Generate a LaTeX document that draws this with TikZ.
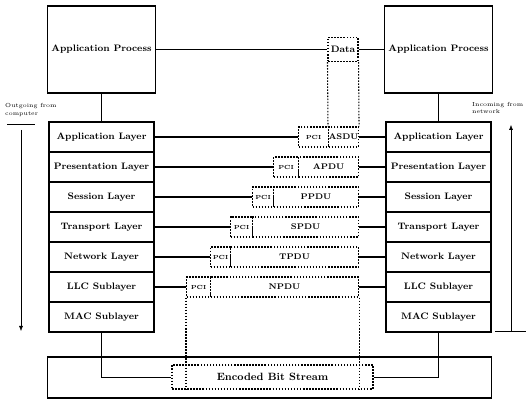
\documentclass[tikz,border=0pt]{standalone}
\usepackage{tikz}
\usetikzlibrary{arrows.meta}
\begin{document}
\begin{tikzpicture}[x=0.03cm,y=-0.03cm]
\tikzset{>={Latex[width=1.2mm,length=1.5mm]}}
\tikzstyle{proc} =[draw, line width=1pt, minimum width=3.15cm, minimum height=2.61cm, font=\footnotesize\bfseries]
\tikzstyle{layer} =[draw, line width=1pt, minimum width=3.15cm, minimum height=0.9cm, font=\footnotesize\bfseries]
\tikzstyle{dots} =[line width=0.9pt, dash pattern=on 1.3pt off 1.3pt]
\tikzstyle{pdu} =[draw, dots, minimum height=0.6cm, inner sep=0pt, font=\scriptsize\bfseries]
\tikzstyle{link} =[line width=1.2pt]
\tikzstyle{note} =[font=\tiny, align=left, inner sep=0pt]

\useasboundingbox (0,0) rectangle (526,402);

% application processes
\node[proc](procL) at (101.5,49.5){Application Process};
\node[proc](procR) at (438.5,49.5){Application Process};

% layer stacks
\foreach \n/\t [count=\i from 0] in {appl/Application Layer, pres/Presentation Layer, sess/Session Layer, tran/Transport Layer, netw/Network Layer, llc/LLC Sublayer, mac/MAC Sublayer}{
  \node[layer](\n-L) at (101.5,137+30*\i){\t};
  \node[layer](\n-R) at (438.5,137+30*\i){\t};
}

% protocol data units
\node[pdu, font=\footnotesize\bfseries, minimum width=0.9cm, minimum height=0.72cm](data) at (343,49.5){Data};
\foreach \l/\s/\t [count=\i] in {298/328/ASDU, 273/298/APDU, 252/273/PPDU, 230/252/SPDU, 210/230/TPDU, 186/210/NPDU}{
  \node[pdu, font=\tiny\bfseries, minimum width={(\s-\l)*0.03cm}, anchor=west](pci\i) at (\l,107+30*\i){PCI};
  \node[pdu, minimum width={(358-\s)*0.03cm}, anchor=west](pdu\i) at (\s,107+30*\i){\t};
}
\draw[dots](data.south west) -- (pdu1.north west) (data.south east) -- (pdu1.north east);

% physical medium
\node[draw, line width=1pt, minimum width=13.3cm, minimum height=1.23cm](medium) at (269.5,377.5){};
\node[pdu, font=\small\bfseries, minimum width=6.03cm, minimum height=0.72cm](bits) at (272.5,377){Encoded Bit Stream};
\draw[dots](pci6.south west) -- (pci6.south west |- bits.south);
\draw[dots](pdu6.south east) -- (pdu6.south east |- bits.south);

% connections
\draw[link](procL.east) -- (data.west);
\draw[link](data.east) -- (procR.west);
\draw[line width=0.8pt](procL) -- (appl-L);
\draw[line width=0.8pt](procR) -- (appl-R);
\foreach \n [count=\i] in {appl,pres,sess,tran,netw,llc}{
  \draw[link](\n-L.east) -- (pci\i.west);
  \draw[link](pdu\i.east) -- (\n-R.west);
}
\draw[line width=0.8pt](mac-L.south) |- (bits.west);
\draw[line width=0.8pt](mac-R.south) |- (bits.east);

% direction notes
\node[note, anchor=west](outNote) at (5,110){Outgoing from\\computer};
\coordinate(outBarL) at (7,124);
\coordinate(outBarR) at (35,124);
\coordinate(outTop) at (21,130);
\coordinate(outEnd) at (21,331);
\draw[line width=0.8pt](outBarL) -- (outBarR);
\draw[->](outTop) -- (outEnd);
\node[note, anchor=west](inNote) at (472,108){Incoming from\\network};
\coordinate(inBase) at (511,331);
\coordinate(inTop) at (511,125);
\coordinate(inBarL) at (495,331);
\coordinate(inBarR) at (526,331);
\draw[line width=0.8pt](inBarL) -- (inBarR);
\draw[->](inBase) -- (inTop);

\end{tikzpicture}
\end{document}
